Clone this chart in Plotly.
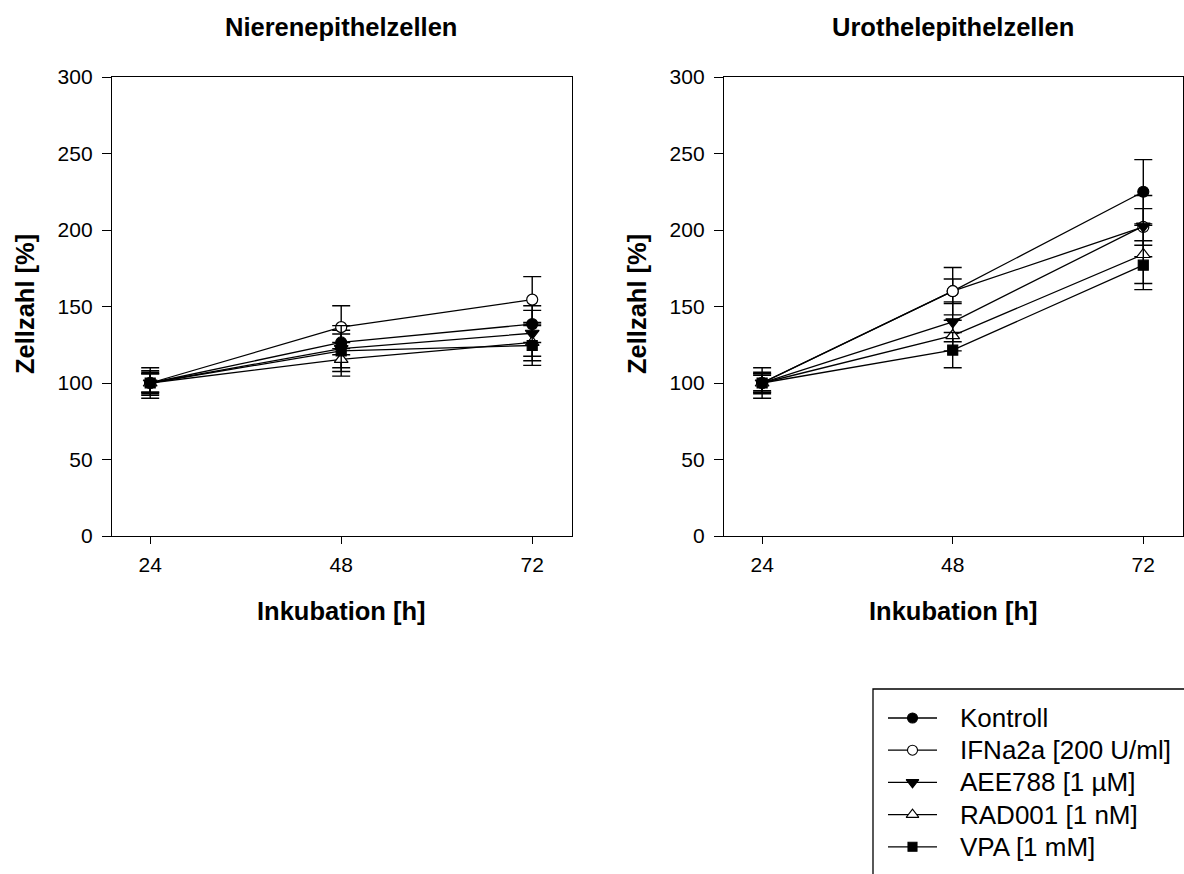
import plotly.graph_objects as go

hours = [24, 48, 72]
series_names = ["Kontroll", "IFNa2a [200 U/ml]", "AEE788 [1 µM]", "RAD001 [1 nM]", "VPA [1 mM]"]

# Nierenepithelzellen
niere_kontroll = [100, 126.5, 138.5]
niere_ifn = [100, 136.5, 154.5]
niere_aee = [100, 122.5, 132.5]
niere_rad = [100, 115.5, 126.5]
niere_vpa = [100, 121, 124.5]
niere_kontroll_err = [10, 8, 12]
niere_ifn_err = [6, 14, 15]
niere_aee_err = [7, 15, 15]
niere_rad_err = [6, 11, 12]
niere_vpa_err = [8, 11, 13]

# Urothelepithelzellen
uro_kontroll = [100, 160, 225]
uro_ifn = [100, 160, 202]
uro_aee = [100, 140, 202.5]
uro_rad = [100, 131, 184]
uro_vpa = [100, 121.5, 177]
uro_kontroll_err = [10, 8, 21]
uro_ifn_err = [7, 15.5, 12]
uro_aee_err = [6, 13, 20]
uro_rad_err = [5, 10, 19]
uro_vpa_err = [6, 11.5, 16]

x_ticks = [24, 48, 72]
y_ticks = [0, 50, 100, 150, 200, 250, 300]

FONT = "Arial, Liberation Sans, sans-serif"
W, H = 1184, 874

styles = [
    dict(symbol="circle", color="black", size=11),
    dict(symbol="circle", color="white", size=11),
    dict(symbol="triangle-down", color="black", size=12),
    dict(symbol="triangle-up", color="white", size=12),
    dict(symbol="square", color="black", size=10),
]

niere = [niere_kontroll, niere_ifn, niere_aee, niere_rad, niere_vpa]
niere_err = [niere_kontroll_err, niere_ifn_err, niere_aee_err, niere_rad_err, niere_vpa_err]
uro = [uro_kontroll, uro_ifn, uro_aee, uro_rad, uro_vpa]
uro_err = [uro_kontroll_err, uro_ifn_err, uro_aee_err, uro_rad_err, uro_vpa_err]

fig = go.Figure()

for panel, (vals, errs, xa, ya) in enumerate([(niere, niere_err, "x", "y"), (uro, uro_err, "x2", "y2")]):
    for name, v, e, st in zip(series_names, vals, errs, styles):
        fig.add_trace(go.Scatter(
            x=hours, y=v, name=name, mode="lines+markers",
            xaxis=xa, yaxis=ya, showlegend=False,
            line=dict(color="black", width=1.3),
            marker=dict(symbol=st["symbol"], size=st["size"], color=st["color"],
                        line=dict(color="black", width=1.2)),
            error_y=dict(type="data", array=e, visible=True, color="black",
                         thickness=1.4, width=9),
        ))

# Legend drawn on a pixel-mapped overlay axis (x3/y3 span the whole page)
LEG_LEFT, LEG_TOP = 873, 689
ROW0, ROW_STEP = 718, 32.2
SAMPLE_X0, SAMPLE_X1, TEXT_X = 888, 937, 958
for i, (name, st) in enumerate(zip(series_names, styles)):
    ry = ROW0 + i * ROW_STEP
    fig.add_trace(go.Scatter(
        x=[SAMPLE_X0, SAMPLE_X1], y=[ry, ry], mode="lines",
        xaxis="x3", yaxis="y3", showlegend=False, hoverinfo="skip",
        line=dict(color="black", width=1.3),
    ))
    fig.add_trace(go.Scatter(
        x=[(SAMPLE_X0 + SAMPLE_X1) / 2], y=[ry], mode="markers",
        xaxis="x3", yaxis="y3", showlegend=False, hoverinfo="skip",
        marker=dict(symbol=st["symbol"], size=st["size"] - 1, color=st["color"],
                    line=dict(color="black", width=1.1)),
    ))
    fig.add_annotation(xref="x3", yref="y3", x=TEXT_X, y=ry, text=name,
                       showarrow=False, xanchor="left", yanchor="middle",
                       font=dict(family=FONT, size=26, color="black"))


def px_x(p):
    return p / W


def px_y(p):
    return 1 - p / H


axis_common = dict(
    showline=True, linecolor="black", linewidth=1.3, mirror=True,
    ticks="outside", tickcolor="black", tickwidth=1.3,
    showgrid=False, zeroline=False, automargin=False,
    tickfont=dict(family=FONT, size=21, color="black"),
)

fig.update_layout(
    template="none",
    width=W, height=H,
    margin=dict(l=0, r=0, t=0, b=0, pad=0),
    paper_bgcolor="white", plot_bgcolor="rgba(0,0,0,0)",
    font=dict(family=FONT, color="black"),
    showlegend=False,
    xaxis=dict(domain=[px_x(112), px_x(572)], range=[19.2, 77], tickvals=x_ticks,
               anchor="y", ticklen=7, ticklabelstandoff=3, **axis_common),
    yaxis=dict(domain=[px_y(536), px_y(77)], range=[0, 300], tickvals=y_ticks,
               anchor="x", ticklen=9, ticklabelstandoff=5, **axis_common),
    xaxis2=dict(domain=[px_x(724), px_x(1183)], range=[19.2, 77], tickvals=x_ticks,
                anchor="y2", ticklen=7, ticklabelstandoff=3, **axis_common),
    yaxis2=dict(domain=[px_y(536), px_y(77)], range=[0, 300], tickvals=y_ticks,
                anchor="x2", ticklen=9, ticklabelstandoff=5, **axis_common),
    xaxis3=dict(domain=[0, 1], range=[0, W], visible=False, fixedrange=True, anchor="y3"),
    yaxis3=dict(domain=[0, 1], range=[H, 0], visible=False, fixedrange=True, anchor="x3"),
)

fig.add_shape(type="rect", xref="x3", yref="y3", x0=LEG_LEFT, y0=LEG_TOP, x1=W + 10, y1=H + 10,
              line=dict(color="black", width=1.3), fillcolor="rgba(0,0,0,0)", layer="below")

bold = dict(family=FONT, size=25.5, color="black")
annotations = [
    dict(text="<b>Nierenepithelzellen</b>", x=px_x(341), y=px_y(27)),
    dict(text="<b>Urothelepithelzellen</b>", x=px_x(953), y=px_y(27)),
    dict(text="<b>Inkubation [h]</b>", x=px_x(341), y=px_y(611)),
    dict(text="<b>Inkubation [h]</b>", x=px_x(953), y=px_y(611)),
    dict(text="<b>Zellzahl [%]</b>", x=px_x(25), y=px_y(304), textangle=-90),
    dict(text="<b>Zellzahl [%]</b>", x=px_x(637), y=px_y(304), textangle=-90),
]
for a in annotations:
    fig.add_annotation(xref="paper", yref="paper", showarrow=False,
                       xanchor="center", yanchor="middle", font=bold, **a)

fig.write_html("out.html")
